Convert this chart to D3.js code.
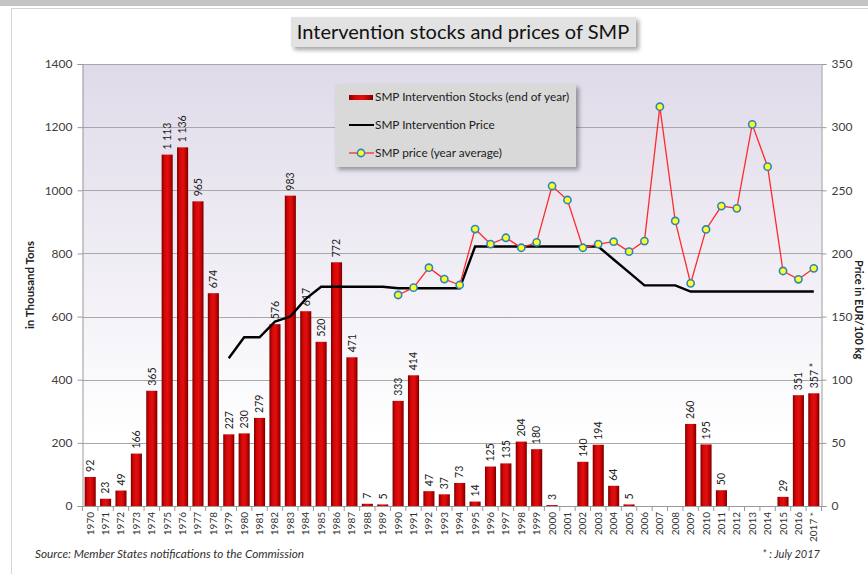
<!DOCTYPE html>
<html><head><meta charset="utf-8">
<script src="https://cdn.jsdelivr.net/npm/d3@7"></script>
<style>body{margin:0;background:#fff;font-family:Lato,"Open Sans",sans-serif}</style>
</head><body><svg id="c" width="868" height="574"></svg>
<script>
const years = ["1970","1971","1972","1973","1974","1975","1976","1977","1978","1979","1980","1981","1982","1983","1984","1985","1986","1987","1988","1989","1990","1991","1992","1993","1994","1995","1996","1997","1998","1999","2000","2001","2002","2003","2004","2005","2006","2007","2008","2009","2010","2011","2012","2013","2014","2015","2016","2017 *"];
const stocks = [92,23,49,166,365,1113,1136,965,674,227,230,279,576,983,617,520,772,471,7,5,333,414,47,37,73,14,125,135,204,180,3,null,140,194,64,5,null,null,null,260,195,50,null,null,null,29,351,357];
const stockLabels = ["92","23","49","166","365","1 113","1 136","965","674","227","230","279","576","983","617","520","772","471","7","5","333","414","47","37","73","14","125","135","204","180","3","","140","194","64","5","","","","260","195","50","","","","29","351","357 *"];
const interventionPrice = [null,null,null,null,null,null,null,null,null,117,133.6,133.6,146,150,164,173.6,173.6,173.6,173.6,173.6,172.4,172.4,172.4,172.4,172.4,205.5,205.5,205.5,205.5,205.5,205.5,205.5,205.5,205.5,195.2,185,174.7,174.7,174.7,169.8,169.8,169.8,169.8,169.8,169.8,169.8,169.8,169.8];
const smpPrice = [null,null,null,null,null,null,null,null,null,null,null,null,null,null,null,null,null,null,null,null,167.1,172.9,188.7,179.7,175,219.3,207.4,212.4,204.5,208.8,253.4,242.3,204.5,207.4,209.3,201.4,209.8,316.2,225.7,176.3,219,237.5,235.7,302.2,268.7,186.1,179.5,188.2];
const leftTicks = [0,200,400,600,800,1000,1200,1400];
const rightTicks = [0,50,100,150,200,250,300,350];
const legendItems = ["SMP Intervention Stocks (end of year)","SMP Intervention Price","SMP price (year average)"];

const svg = d3.select("#c");
const X0 = 82.5, X1 = 821.5, Y0 = 506, Y1 = 64;
const defs = svg.append("defs");
const bg = defs.append("linearGradient").attr("id","bg").attr("x1",0).attr("y1",0).attr("x2",0).attr("y2",1);
bg.append("stop").attr("offset","0%").attr("stop-color","#dfdae9");
bg.append("stop").attr("offset","85%").attr("stop-color","#ffffff");
bg.append("stop").attr("offset","100%").attr("stop-color","#ffffff");
const bargrad = defs.append("linearGradient").attr("id","bar").attr("x1",0).attr("y1",0).attr("x2",1).attr("y2",0);
[["0%","#7a0000"],["25%","#d40606"],["55%","#e01010"],["80%","#c00000"],["100%","#700000"]].forEach(s=>bargrad.append("stop").attr("offset",s[0]).attr("stop-color",s[1]));
const sh = defs.append("filter").attr("id","sh").attr("x","-10%").attr("y","-10%").attr("width","130%").attr("height","140%");
sh.append("feDropShadow").attr("dx",3).attr("dy",3).attr("stdDeviation",2).attr("flood-color","#000").attr("flood-opacity",0.35);

// frame
svg.append("rect").attr("x",0).attr("y",0).attr("width",868).attr("height",6).attr("fill","#c4c4c4");
svg.append("rect").attr("x",11.5).attr("y",8.5).attr("width",870).attr("height",600).attr("fill","#fff").attr("stroke","#d4d4d4");

const x = d3.scaleBand().domain(years).range([X0,X1]).paddingInner(0.28).paddingOuter(0.14);
const yL = d3.scaleLinear().domain([0,1400]).range([Y0,Y1]);
const yR = d3.scaleLinear().domain([0,350]).range([Y0,Y1]);

svg.append("rect").attr("x",X0).attr("y",Y1).attr("width",X1-X0).attr("height",Y0-Y1).attr("fill","url(#bg)");
// grid
svg.append("g").selectAll("line").data(leftTicks.slice(1)).join("line")
  .attr("x1",X0).attr("x2",X1).attr("y1",d=>Math.round(yL(d))+0.5).attr("y2",d=>Math.round(yL(d))+0.5)
  .attr("stroke","#a8a8a8").attr("stroke-width",1);

// axes
const axL = svg.append("g").attr("transform",`translate(${X0},0)`)
  .call(d3.axisLeft(yL).tickValues(leftTicks).tickSize(5).tickFormat(d3.format("d")));
const axR = svg.append("g").attr("transform",`translate(${X1},0)`)
  .call(d3.axisRight(yR).tickValues(rightTicks).tickSize(5).tickFormat(d3.format("d")));
[axL,axR].forEach(a=>{a.select(".domain").attr("stroke","#9a9a9a");a.selectAll(".tick line").attr("stroke","#9a9a9a");
  a.selectAll("text").attr("font-family","Lato, sans-serif").attr("font-size",12).attr("fill","#404040");});
axL.selectAll("text").attr("x",-10);
axR.selectAll("text").attr("x",10);

// x axis
const gx = svg.append("g").attr("transform",`translate(0,${Y0})`);
gx.append("line").attr("x1",X0).attr("x2",X1).attr("y1",0.5).attr("y2",0.5).attr("stroke","#9a9a9a");
gx.selectAll("line.t").data(d3.range(years.length+1)).join("line").attr("class","t")
  .attr("x1",i=>X0+i*x.step()).attr("x2",i=>X0+i*x.step()).attr("y1",0).attr("y2",5).attr("stroke","#9a9a9a");
gx.selectAll("text").data(years).join("text")
  .attr("transform",d=>`translate(${x(d)+x.bandwidth()/2+3.5},6) rotate(-90)`)
  .attr("text-anchor","end").attr("font-size",10).attr("fill","#303030").text(d=>d);

// bars
const bd = years.map((y,i)=>({y,v:stocks[i],l:stockLabels[i]}));
svg.append("g").selectAll("rect").data(bd.filter(d=>d.v!=null)).join("rect")
  .attr("x",d=>x(d.y)).attr("width",x.bandwidth()).attr("y",d=>yL(d.v)).attr("height",d=>Y0-yL(d.v))
  .attr("fill","url(#bar)");
svg.append("g").selectAll("text").data(bd.filter(d=>d.v!=null)).join("text")
  .attr("transform",d=>`translate(${x(d.y)+x.bandwidth()/2+3.8},${yL(d.v)-5}) rotate(-90)`)
  .attr("font-size",10.5).attr("fill","#202020").text(d=>d.l);

// intervention price
const ip = years.map((y,i)=>({y,v:interventionPrice[i]}));
const line = d3.line().defined(d=>d.v!=null).x(d=>x(d.y)+x.bandwidth()/2).y(d=>yR(d.v));
svg.append("path").datum(ip).attr("d",line).attr("fill","none").attr("stroke","#000").attr("stroke-width",2.4);

// smp price
const sp = years.map((y,i)=>({y,v:smpPrice[i]}));
svg.append("path").datum(sp).attr("d",line).attr("fill","none").attr("stroke","#ff2a2a").attr("stroke-width",1.3);
svg.append("g").selectAll("circle").data(sp.filter(d=>d.v!=null)).join("circle")
  .attr("cx",d=>x(d.y)+x.bandwidth()/2).attr("cy",d=>yR(d.v)).attr("r",3.6)
  .attr("fill","#ffff20").attr("stroke","#2a86c0").attr("stroke-width",1.6);

// legend
const lg = svg.append("g");
lg.append("rect").attr("x",335).attr("y",84).attr("width",241).attr("height",83).attr("fill","#d9d9d9").attr("filter","url(#sh)");
lg.append("rect").attr("x",349).attr("y",95).attr("width",24).attr("height",5).attr("fill","url(#bar)");
lg.append("line").attr("x1",349).attr("x2",374).attr("y1",125).attr("y2",125).attr("stroke","#000").attr("stroke-width",2);
lg.append("line").attr("x1",349).attr("x2",374).attr("y1",153).attr("y2",153).attr("stroke","#ff2a2a").attr("stroke-width",1.3);
lg.append("circle").attr("cx",361).attr("cy",153).attr("r",3.6).attr("fill","#ffff20").attr("stroke","#2a86c0").attr("stroke-width",1.6);
lg.selectAll("text").data(legendItems).join("text").attr("x",375).attr("y",(d,i)=>101+i*28)
  .attr("font-size",11.8).attr("fill","#202020").text(d=>d);

// title
svg.append("rect").attr("x",291).attr("y",17).attr("width",345).attr("height",30).attr("fill","#e2e2e2").attr("filter","url(#sh)");
svg.append("text").attr("x",463).attr("y",39).attr("text-anchor","middle").attr("font-size",20).attr("fill","#111").text("Intervention stocks and prices of SMP");

// axis titles
svg.append("text").attr("transform","translate(34,285) rotate(-90)").attr("text-anchor","middle").attr("font-size",11.5).attr("font-weight","bold").attr("fill","#202020").text("in Thousand Tons");
svg.append("text").attr("transform","translate(855,260) rotate(90)").attr("font-size",11).attr("font-weight","bold").attr("fill","#202020").text("Price in EUR/100 kg");

// footer
svg.append("text").attr("x",35).attr("y",558).attr("font-size",11.8).attr("font-style","italic").attr("fill","#303030").text("Source: Member States notifications to the Commission");
svg.append("text").attr("x",820).attr("y",558).attr("text-anchor","end").attr("font-size",11).attr("font-style","italic").attr("fill","#303030").text("* : July 2017");
</script></body></html>
